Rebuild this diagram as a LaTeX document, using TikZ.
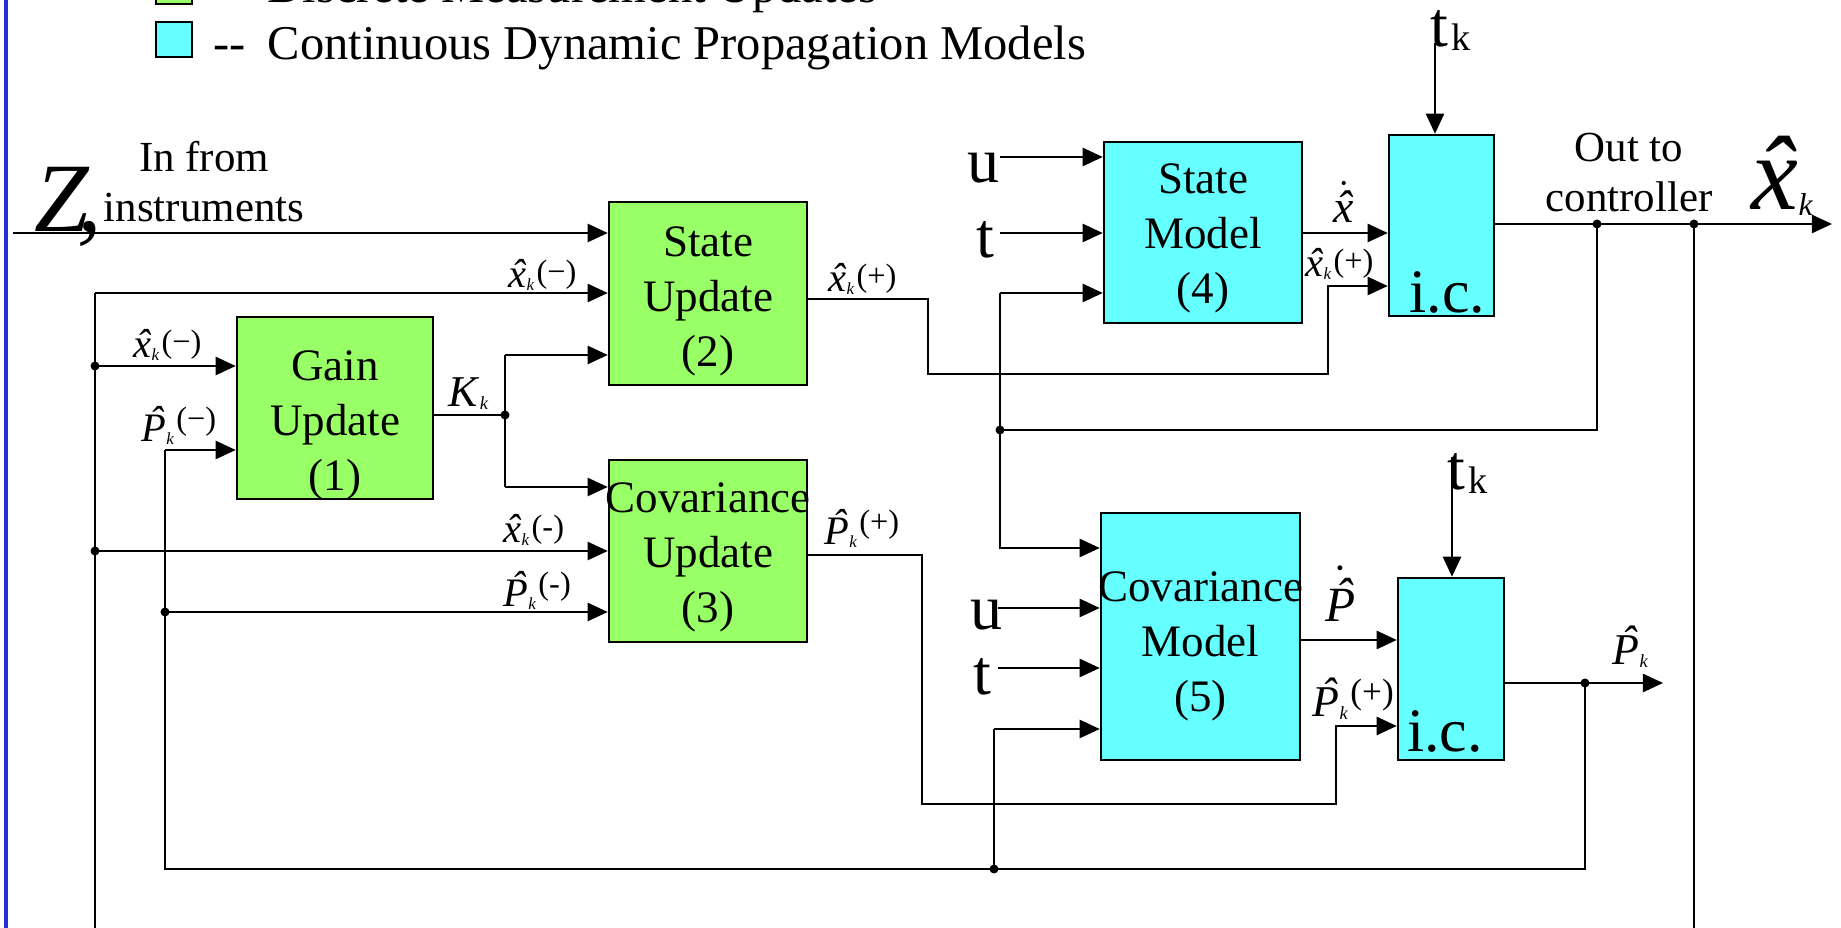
\documentclass[tikz,border=0pt]{standalone}
\usepackage{fontspec}
\setmainfont{Liberation Serif}
\usetikzlibrary{positioning,arrows.meta}

\definecolor{updgreen}{RGB}{153,255,102}
\definecolor{mdlcyan}{RGB}{102,255,255}
\definecolor{railblue}{RGB}{38,48,214}

% estimate symbols
\newcommand{\hx}{\textit{\accent"02C6 x}}
\newcommand{\hP}{\textit{\accent"02C6 P}}
\newcommand{\kk}{\raisebox{-.06em}{\scalebox{.42}{\itshape k}}}
\newcommand{\sx}[1]{\kern.06em\raisebox{.14em}{\scalebox{.8}{(#1)}}}
\newcommand{\sP}[1]{\kern.06em\raisebox{.3em}{\scalebox{.8}{(#1)}}}

\begin{document}
\begin{tikzpicture}[x=0.01cm,y=-0.01cm,line width=0.45pt,
  sig/.style={-{Triangle[length=5.7pt,width=5.2pt]}},
  blk/.style={draw,line width=0.7pt,inner sep=0pt},
  upd/.style={blk,fill=updgreen},
  mdl/.style={blk,fill=mdlcyan},
  btxt/.style={align=center,inner sep=0pt,font=\fontsize{12.8pt}{15.65pt}\selectfont},
  lab/.style={anchor=base west,inner sep=0pt,font=\fontsize{11.5pt}{13pt}\selectfont},
  labm/.style={lab,font=\fontsize{12.5pt}{14pt}\selectfont},
  io/.style={anchor=base west,inner sep=0pt,font=\fontsize{18.2pt}{20pt}\selectfont},
  key/.style={anchor=base west,inner sep=0pt,font=\fontsize{13.8pt}{16pt}\selectfont},
  note/.style={align=center,anchor=south,inner sep=0pt,font=\fontsize{12.2pt}{14.3pt}\selectfont}]
  \useasboundingbox (0,0) rectangle (1841,928);
  \clip (0,0) rectangle (1841,928);
  \draw[railblue,line width=1.15pt] (6,-5) -- (6,935);

  % legend
  \node[upd,line width=0.8pt,minimum width=0.36cm,minimum height=0.35cm] (keyupd) at (174,-13.5) {};
  \node[mdl,line width=0.8pt,minimum width=0.36cm,minimum height=0.35cm] (keymdl) at (174,39.5) {};
  \node[key] (keyupddash) at (213,3) {-{}-};
  \node[key] (keyupdtx) at (267,3) {Discrete Measurement Updates};
  \node[key] (keymdldash) at (213,60) {-{}-};
  \node[key] (keymdltx) at (267,60) {Continuous Dynamic Propagation Models};

  % blocks
  \node[upd,minimum width=1.96cm,minimum height=1.82cm] (gain) at (335,408) {};
  \node[upd,minimum width=1.98cm,minimum height=1.83cm] (supd) at (708,293.5) {};
  \node[upd,minimum width=1.98cm,minimum height=1.82cm] (cupd) at (708,551) {};
  \node[mdl,minimum width=1.98cm,minimum height=1.81cm] (smod) at (1203,232.5) {};
  \node[mdl,minimum width=1.99cm,minimum height=2.47cm] (cmod) at (1200.5,636.5) {};
  \node[mdl,minimum width=1.05cm,minimum height=1.81cm] (ic1) at (1441.5,225.5) {};
  \node[mdl,minimum width=1.06cm,minimum height=1.82cm] (ic2) at (1451,669) {};
  \node[btxt] (gaintx) at (335,425.5) {Gain\\Update\\(1)};
  \node[btxt] (supdtx) at (708,301.5) {State\\Update\\(2)};
  \node[btxt] (cupdtx) at (708,557) {Covariance\\Update\\(3)};
  \node[btxt] (smodtx) at (1203,238.5) {State\\Model\\(4)};
  \node[btxt] (cmodtx) at (1200.5,646) {Covariance\\Model\\(5)};
  \node[inner sep=0pt,font=\fontsize{17.6pt}{19pt}\selectfont,above=0.85pt of ic1.south,xshift=1.6pt] (ic1tx) {i.c.};
  \node[inner sep=0pt,font=\fontsize{17.6pt}{19pt}\selectfont,above=2.3pt of ic2.south,xshift=-1.7pt] (ic2tx) {i.c.};

  % junctions and bends
  \coordinate (zin) at (13,233);
  \coordinate (xl) at (95,293);
  \coordinate (xlb) at (95,935);
  \coordinate (j1) at (95,366);
  \coordinate (j2) at (95,551);
  \coordinate (pl) at (165,450);
  \coordinate (j3) at (165,612);
  \coordinate (pb) at (165,869);
  \coordinate (kj) at (505,415);
  \coordinate (ku) at (505,355);
  \coordinate (kd) at (505,487);
  \coordinate (xp1) at (928,299);
  \coordinate (xp2) at (928,374);
  \coordinate (xp3) at (1328,374);
  \coordinate (xp4) at (1328,286);
  \coordinate (pp1) at (922,555);
  \coordinate (pp2) at (922,804);
  \coordinate (pp3) at (1336,804);
  \coordinate (pp4) at (1336,726);
  \coordinate (u1) at (1000,157);
  \coordinate (t1) at (1000,233);
  \coordinate (fb1) at (1000,293);
  \coordinate (j4) at (1000,430);
  \coordinate (fb1b) at (1000,548);
  \coordinate (u2) at (998,608);
  \coordinate (t2) at (998,668);
  \coordinate (fb2) at (994,729);
  \coordinate (j7) at (994,869);
  \coordinate (pdot) at (1300,640);
  \coordinate (tk1) at (1435,43);
  \coordinate (tk2) at (1452,457);
  \coordinate (j5) at (1597,224);
  \coordinate (j6) at (1694,224);
  \coordinate (j6b) at (1694,935);
  \coordinate (xout) at (1832,224);
  \coordinate (j8) at (1585,683);
  \coordinate (pout) at (1663,683);

  % measurement update side
  \draw[sig] (zin) -- (supd.west |- zin);
  \draw (xl) -- (xlb);
  \draw[sig] (xl) -- (supd.west |- xl);
  \draw[sig] (j1) -- (gain.west |- j1);
  \draw[sig] (j2) -- (cupd.west |- j2);
  \draw[sig] (pl) -- (gain.west |- pl);
  \draw[sig] (j3) -- (cupd.west |- j3);
  \draw (gain.east |- kj) -- (kj);
  \draw (ku) -- (kd);
  \draw[sig] (ku) -- (supd.west |- ku);
  \draw[sig] (kd) -- (cupd.west |- kd);
  \draw[sig] (supd.east |- xp1) -- (xp1) -- (xp2) -- (xp3) -- (xp4) -- (ic1.west |- xp4);
  \draw[sig] (cupd.east |- pp1) -- (pp1) -- (pp2) -- (pp3) -- (pp4) -- (ic2.west |- pp4);

  % propagation side
  \draw[sig] (u1) -- (smod.west |- u1);
  \draw[sig] (t1) -- (smod.west |- t1);
  \draw[sig] (fb1) -- (smod.west |- fb1);
  \draw[sig] (fb1) -- (fb1b) -- (cmod.west |- fb1b);
  \draw[sig] (u2) -- (cmod.west |- u2);
  \draw[sig] (t2) -- (cmod.west |- t2);
  \draw[sig] (fb2) -- (cmod.west |- fb2);
  \draw (fb2) -- (j7);
  \draw[sig] (smod.east |- t1) -- (ic1.west |- t1);
  \draw[sig] (cmod.east |- pdot) -- (ic2.west |- pdot);
  \draw[sig] (tk1) -- (tk1 |- ic1.north);
  \draw[sig] (tk2) -- (tk2 |- ic2.north);
  \draw[sig] (ic1.east |- j5) -- (xout);
  \draw (j5) -- (j5 |- j4) -- (j4);
  \draw (j6) -- (j6b);
  \draw[sig] (ic2.east |- j8) -- (pout);
  \draw (j8) -- (j8 |- pb) -- (pb) -- (pl);
  \foreach \j in {j1,j2,j3,kj,j4,j5,j6,j7,j8}
    \fill (\j) circle[radius=4.5];

  % signal names
  \node[anchor=base west,inner sep=0pt,font=\fontsize{27.9pt}{30pt}\selectfont\itshape] (zlab) at (34,232) {Z\kern-.12em,};
  \node[note] (inlab) at (204,223) {In from\\instruments};
  \node[note] (outlab) at (1629,213) {Out to\\controller};
  \node[lab] (lx1) at (508,288) {\hx\kk\sx{−}};
  \node[lab] (lx2) at (133,358) {\hx\kk\sx{−}};
  \node[lab] (lp1) at (141,442) {\hP\kk\sP{−}};
  \node[labm] (lk) at (448,407) {\textit{K}\kk};
  \node[lab] (lx3) at (503,543) {\hx\kk\sx{-}};
  \node[lab] (lp2) at (503,607) {\hP\kk\sP{-}};
  \node[lab] (lx4) at (828,292) {\hx\kk\sx{+}};
  \node[lab] (lp3) at (824,545) {\hP\kk\sP{+}};
  \node[lab,font=\fontsize{13pt}{15pt}\selectfont] (lxd) at (1333,223) {$\dot{\mbox{\hx}}$};
  \node[lab] (lx5) at (1305,277) {\hx\kk\sx{+}};
  \node[lab,font=\fontsize{14pt}{16pt}\selectfont] (lpd) at (1325,622) {$\dot{\mbox{\hP}}$};
  \node[labm] (lp4) at (1312,717) {\hP\kk\sP{+}};
  \node[labm] (lpk) at (1612,665) {\hP\kk};
  \node[lab,font=\fontsize{30pt}{32pt}\selectfont] (lxk) at (1751,210) {\hx\raisebox{-.05em}{\scalebox{.3}{\itshape k}}};
  \node[io] (lu1) at (967,183) {u};
  \node[io] (lt1) at (976,258) {t};
  \node[io] (lu2) at (970,630) {u};
  \node[io] (lt2) at (973,695) {t};
  \node[io] (ltk1) at (1430,47) {t\kern.05em\raisebox{-.05em}{\scalebox{.6}{k}}};
  \node[io] (ltk2) at (1447,490) {t\kern.05em\raisebox{-.05em}{\scalebox{.6}{k}}};
\end{tikzpicture}
\end{document}
